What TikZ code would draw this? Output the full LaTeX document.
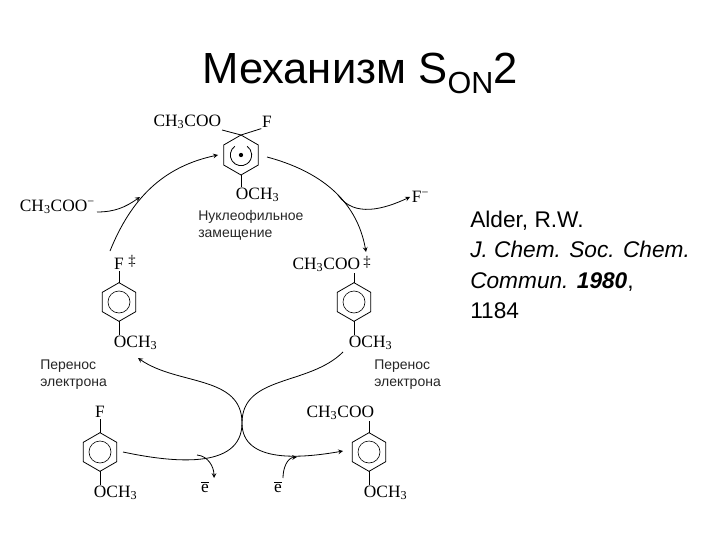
\documentclass[tikz,border=0pt]{standalone}
\usepackage{fontspec}
\setmainfont{Liberation Serif}
\setsansfont{Liberation Sans}
\usetikzlibrary{positioning, shapes.geometric}
\newcommand{\acetate}{CH\textsubscript{3}COO}
\newcommand{\methoxy}{OCH\textsubscript{3}}
\tikzset{
  ring/.style={regular polygon, regular polygon sides=6, shape border rotate=30, draw, line width=0.6pt,
    minimum size=29pt, inner sep=0pt, outer sep=0pt},
  innerring/.style={circle, draw, line width=0.45pt, minimum size=16.5pt, inner sep=0pt},
  chem/.style={font=\fontsize{13}{15}\selectfont, inner sep=0.5pt},
  note/.style={font=\sffamily\fontsize{10.5}{12.8}\selectfont, align=left, inner sep=0pt, text=black!85},
  radical/.style={font=\fontsize{11}{12}\selectfont, inner sep=0.5pt},
  bond/.style={line width=0.6pt},
  flow/.style={-stealth, line width=0.6pt}
}
\begin{document}
\begin{tikzpicture}[x=0.75pt, y=0.75pt]
  \useasboundingbox (0,0) rectangle (720,540);
  \node[font=\sffamily\fontsize{32.7}{36}\selectfont, anchor=west, inner sep=0pt] (title) at (202,467) {Механизм S\textsubscript{ON}2};
  \node[font=\sffamily\fontsize{17}{22.7}\selectfont, anchor=west, align=left, inner sep=0pt] (ref) at (470,275)
    {Alder, R.W.\\ \textit{J. Chem. Soc. Chem.}\\ \textit{Commun. \textbf{1980}},\\ 1184};

  \foreach \name/\x/\y in {rl/119/238, rr/354/238, rbl/100/88, rbr/369/88} {
    \node[ring] (\name) at (\x,\y) {};
    \node[innerring] (\name c) at (\name) {};
  }
  \node[ring, minimum size=30pt] (rt) at (241,385) {};
  \fill (rt) circle (1.6pt);
  \draw[bond] ([shift={(125:8pt)}]rt.center) arc[start angle=125, end angle=415, radius=8pt];

  \node[chem, anchor=east] (cootop) at (222,418) {\acetate};
  \node[chem] (ftop) at (267,418) {F};
  \node[chem, anchor=west] (ochtop) at (235,345) {\methoxy};
  \draw[bond] (rt.north) -- (cootop.south east);
  \draw[bond] (rt.north) -- (ftop.south west);
  \draw[bond] (rt.south) -- (rt.south |- ochtop.north);

  \node[chem, above=9pt of rl, label={[radical, xshift=2pt, yshift=2pt]right:‡}] (fl) {F};
  \node[chem, anchor=west] (ochl) at (113,197) {\methoxy};
  \draw[bond] (rl.north) -- (fl.south);
  \draw[bond] (rl.south) -- (rl.south |- ochl.north);

  \node[chem, anchor=east, label={[radical, xshift=1pt, yshift=2pt]right:‡}] (coor) at (361,275) {\acetate};
  \node[chem, anchor=west] (ochr) at (348,197) {\methoxy};
  \draw[bond] (rr.north) -- (rr.north |- coor.south);
  \draw[bond] (rr.south) -- (rr.south |- ochr.north);

  \node[chem] (fbl) at (100,128) {F};
  \node[chem, anchor=west] (ochbl) at (93,47) {\methoxy};
  \draw[bond] (rbl.north) -- (fbl.south);
  \draw[bond] (rbl.south) -- (rbl.south |- ochbl.north);

  \node[chem, anchor=east] (coobr) at (375,127) {\acetate};
  \node[chem, anchor=west] (ochbr) at (363,47) {\methoxy};
  \draw[bond] (rbr.north) -- (rbr.north |- coobr.south);
  \draw[bond] (rbr.south) -- (rbr.south |- ochbr.north);

  \node[chem, anchor=west] (acion) at (19,333) {\acetate\textsuperscript{−}};
  \node[chem, anchor=west] (fion) at (411,343) {F\textsuperscript{−}};
  \node[chem] (el) at (205,53) {$\overline{\mbox{e}}$};
  \node[chem] (er) at (278,53) {$\overline{\mbox{e}}$};

  \node[note, anchor=west] (subst) at (198,315) {Нуклеофильное\\замещение};
  \node[note, anchor=west] (etl) at (40,165) {Перенос\\электрона};
  \node[note, anchor=west] (etr) at (374,165) {Перенос\\электрона};

  \coordinate (cross) at (242,117);
  \coordinate (fstart) at (110,289);
  \coordinate (topin) at (218,385);
  \coordinate (topout) at (267,383);
  \coordinate (cooin) at (366,288);
  \coordinate (acstart) at (97,328);
  \coordinate (acend) at (140,343);
  \coordinate (fbranch) at (338,345);
  \coordinate (fend) at (410,343);
  \coordinate (blstart) at (123,88);
  \coordinate (ochlin) at (138,182);
  \coordinate (ochrout) at (343,188);
  \coordinate (brend) at (343,89);
  \coordinate (elstart) at (197,85);
  \coordinate (elend) at (214,62);
  \coordinate (erstart) at (283,62);
  \coordinate (erend) at (297,83);

  \draw[flow] (fstart) to[out=68, in=192] (topin);
  \draw[flow] (topout) to[out=-15, in=100] (cooin);
  \draw[flow] (acstart) to[out=0, in=215] (acend);
  \draw[flow] (fbranch) to[out=-55, in=205] (fend);
  \draw[flow] (blstart) to[out=-12, in=-90] (cross) to[out=90, in=-35] (ochlin);
  \draw[flow] (ochrout) to[out=-135, in=90] (cross) to[out=-90, in=190] (brend);
  \draw[flow] (elstart) to[out=-5, in=90] (elend);
  \draw[flow] (erstart) to[out=90, in=185] (erend);
\end{tikzpicture}
\end{document}
